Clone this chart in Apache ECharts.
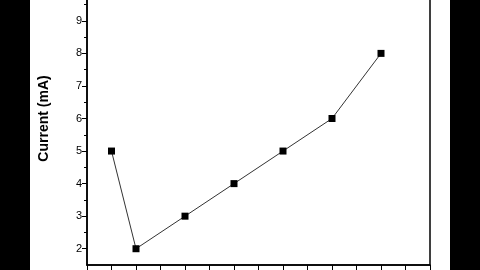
<!DOCTYPE html>
<html><head><meta charset="utf-8">
<script src="https://cdn.jsdelivr.net/npm/echarts@6/dist/echarts.min.js"></script>
<style>
html,body{margin:0;padding:0;width:480px;height:270px;overflow:hidden;}
body{background:linear-gradient(to right,#000 0,#000 30px,#fff 30px,#fff 450px,#000 450px,#000 480px);position:relative;}
#c{position:absolute;left:0;top:-28px;width:480px;height:298px;}
</style></head>
<body><div id="c"></div>
<script>
const xValues = [0.5, 1, 2, 3, 4, 5, 6];
const currentValues = [5, 2, 3, 4, 5, 6, 8];
const yTickLabels = [2, 3, 4, 5, 6, 7, 8, 9];
const yMinorTicks = [2.5, 3.5, 4.5, 5.5, 6.5, 7.5, 8.5, 9.5];

const chart = echarts.init(document.getElementById('c'), null, {renderer: 'canvas'});
const font = 'Liberation Sans, Arial, sans-serif';
chart.setOption({
  animation: false,
  grid: {left: 87, right: 50, top: 0, bottom: 5, show: true, borderColor: '#000', borderWidth: 1.5, backgroundColor: 'transparent'},
  xAxis: {
    type: 'value', min: 0, max: 7, interval: 0.5,
    axisLine: {lineStyle: {color: '#000', width: 1.5}},
    axisTick: {show: true, inside: false, length: 5, lineStyle: {color: '#000', width: 1}},
    axisLabel: {show: false},
    splitLine: {show: false}
  },
  yAxis: [{
    type: 'value', min: 1.5, max: 10.5, position: 'left',
    name: 'Current (mA)', nameLocation: 'middle', nameRotate: 90, nameGap: 36,
    nameTextStyle: {color: '#000', fontSize: 14, fontWeight: 'bold', fontFamily: font},
    axisLine: {show: true, lineStyle: {color: '#000', width: 1.5}},
    axisTick: {show: true, length: 5, customValues: yTickLabels, lineStyle: {color: '#000', width: 1}},
    axisLabel: {show: true, customValues: yTickLabels, color: '#000', fontSize: 11, fontFamily: font, margin: 5},
    splitLine: {show: false}
  }, {
    type: 'value', min: 1.5, max: 10.5, position: 'left',
    axisLine: {show: false},
    axisTick: {show: true, length: 3, customValues: yMinorTicks, lineStyle: {color: '#000', width: 1}},
    axisLabel: {show: false},
    splitLine: {show: false}
  }],
  series: [{
    type: 'line',
    data: xValues.map((x, i) => [x, currentValues[i]]),
    symbol: 'rect', symbolSize: 7,
    itemStyle: {color: '#000'},
    lineStyle: {color: '#333', width: 1},
    z: 5
  }]
});
</script></body></html>
